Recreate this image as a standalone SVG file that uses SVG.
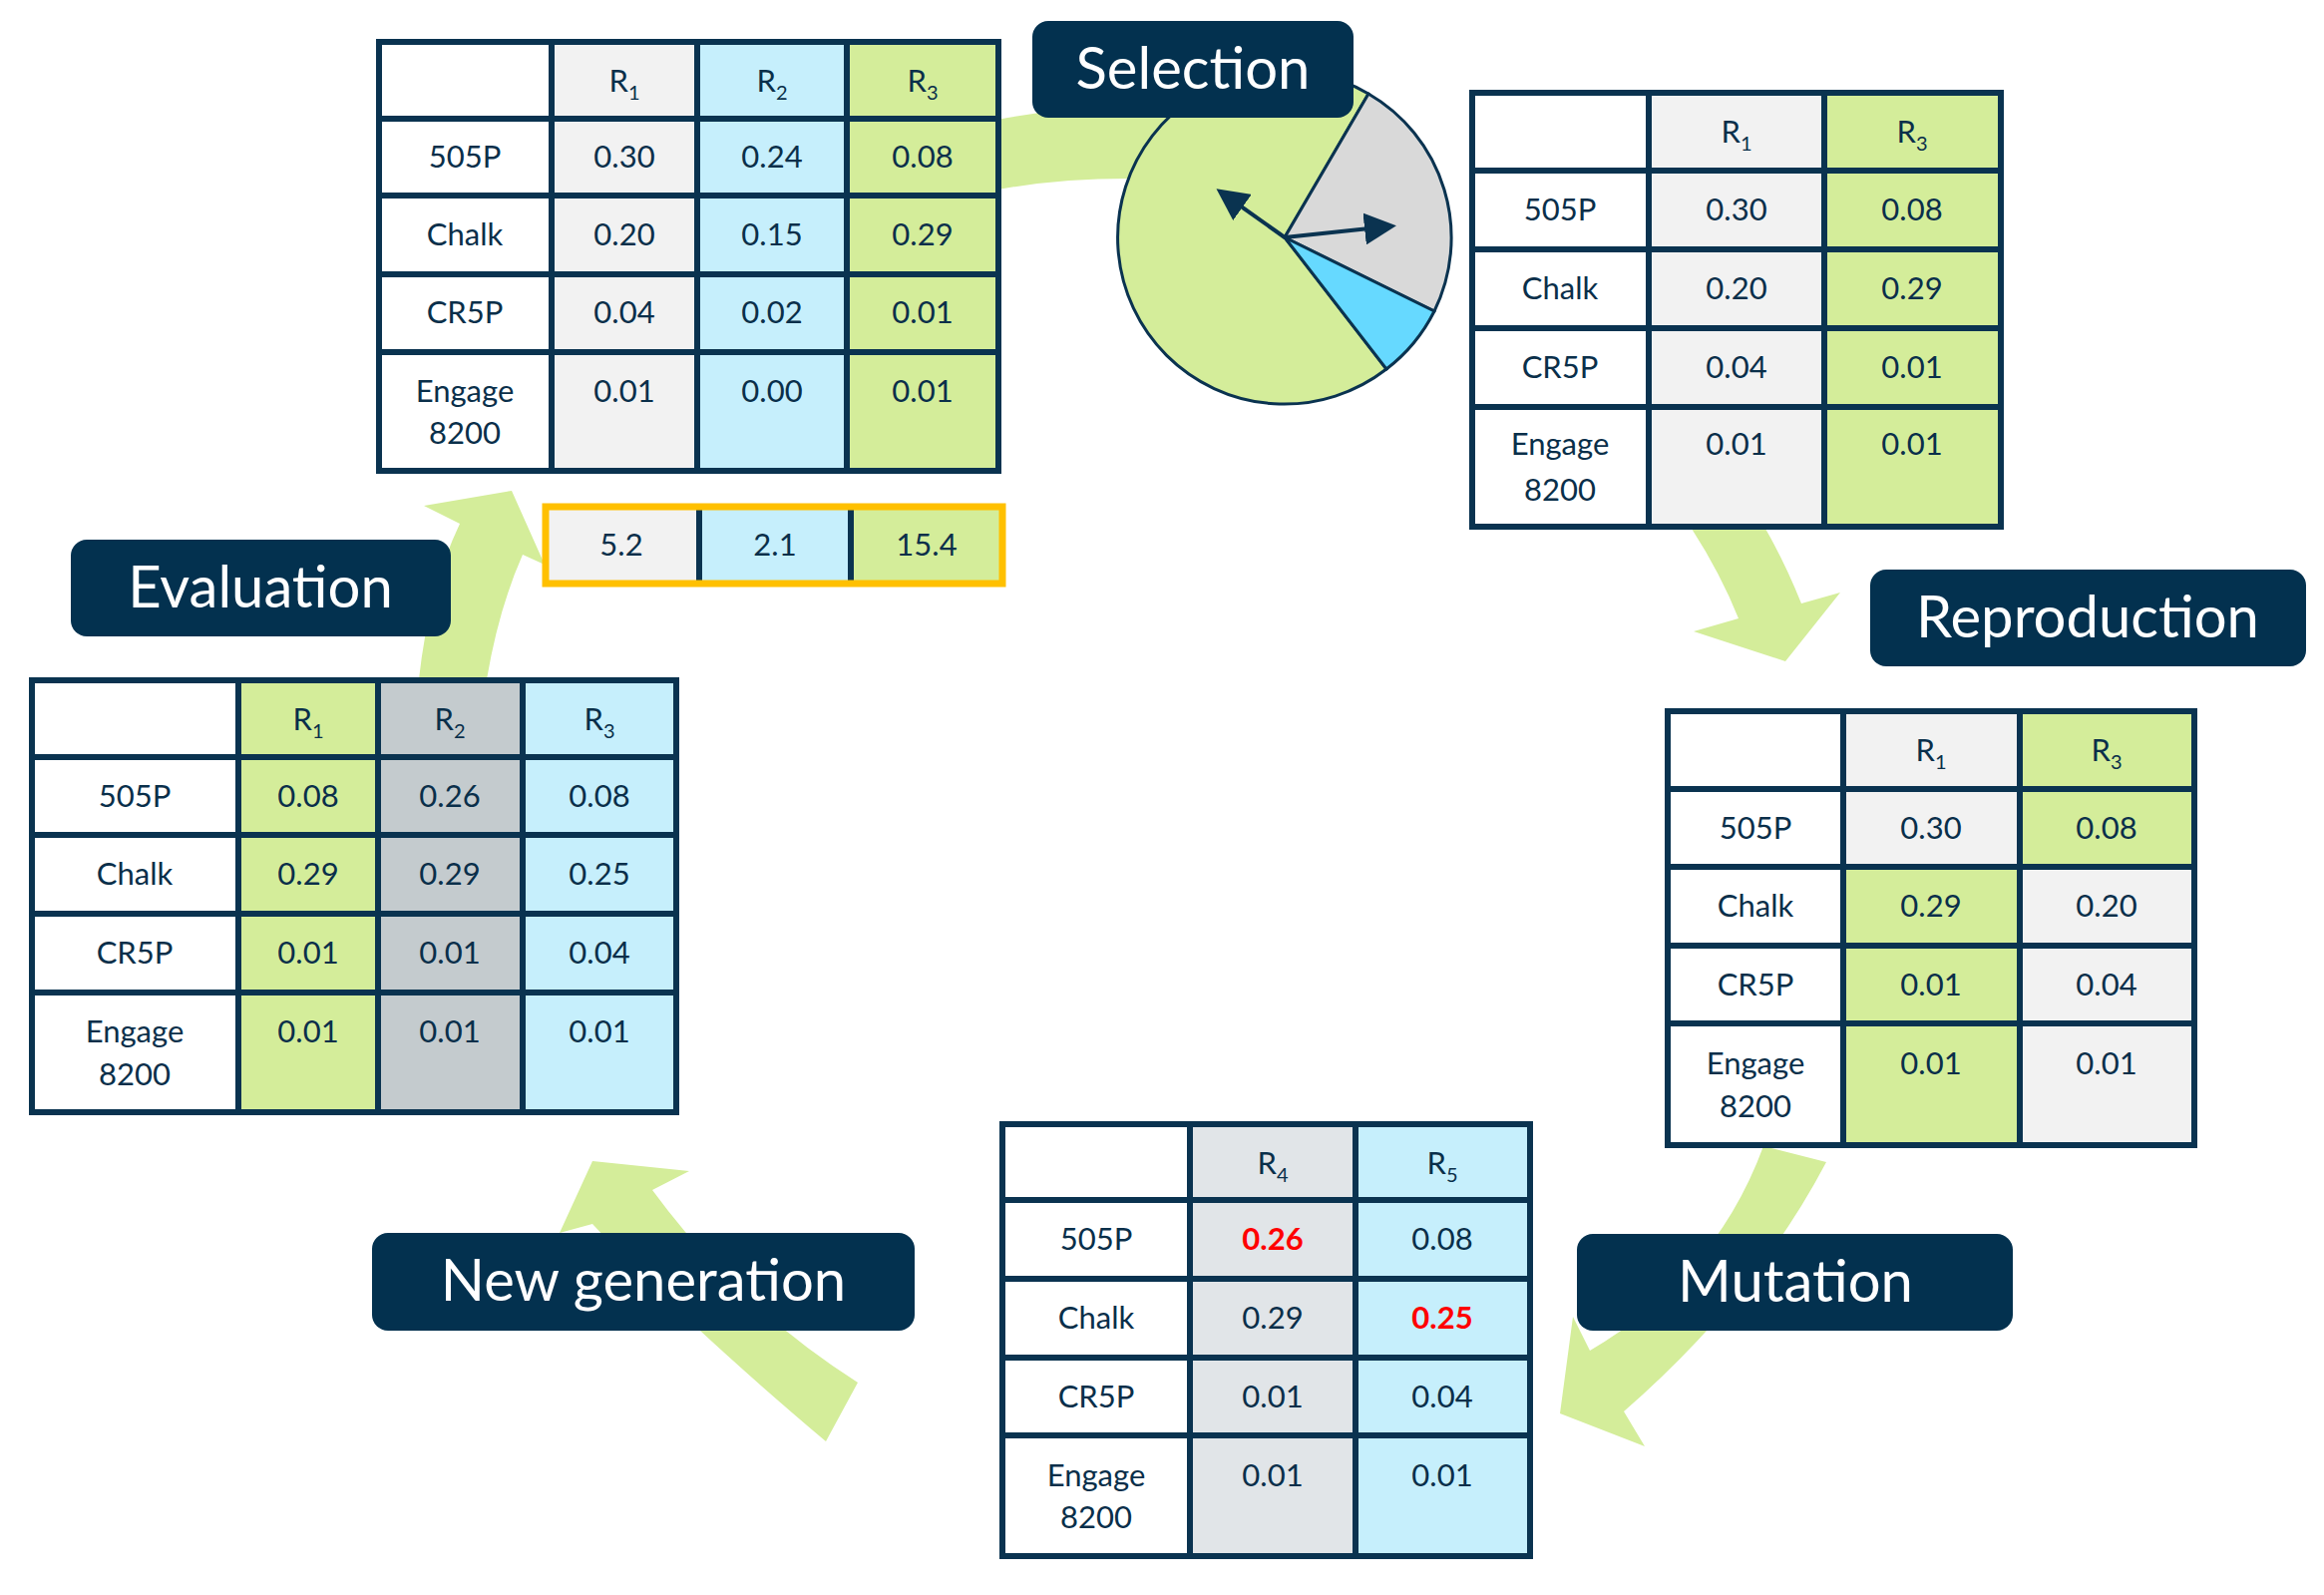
<svg xmlns="http://www.w3.org/2000/svg" width="2330" height="1599" viewBox="0 0 2330 1599">
<style>
.t{font-family:Lato,"Open Sans","Liberation Sans",sans-serif;font-size:31px;fill:#0a2f4a;text-anchor:middle}
.s{font-size:20px}
.lab{fill:#03314f}
.lt{font-family:Lato,"Open Sans","Liberation Sans",sans-serif;font-size:58px;fill:#fff;text-anchor:middle}
.g{stroke:#0a3350;stroke-width:6;fill:none}
.gr{fill:#f2f2f2}.bl{fill:#c6effc}.gn{fill:#d4ed9a}.dg{fill:#c4cbce}.lg{fill:#e1e5e8}
.red{fill:#ff0000;font-weight:bold}
.arr{fill:#d4ed9a}
</style>
<defs>
<marker id="ah" markerWidth="8" markerHeight="8" refX="6" refY="4" orient="auto" markerUnits="strokeWidth"><path d="M0,0 L8,4 L0,8 Z" fill="#0a3350"/></marker>
</defs>
<rect width="2330" height="1599" fill="#fff"/>
<g id="connectors">
<path class="arr" d="M1000,120 Q1080,104 1170,108 L1170,180 Q1080,176 1000,190 Z"/>
<path class="arr" d="M1696,530 Q1725,575 1743,620 L1698,633 L1790,663 L1845,594 L1806,605 Q1790,565 1770,530 Z"/>
<path class="arr" d="M1768,1149 Q1720,1280 1594,1354 L1577,1320 L1564,1417 L1649,1450 L1628,1415 Q1760,1300 1831,1165 Z"/>
<path class="arr" d="M828,1445 Q680,1320 594,1227 L561,1236 L594,1164 L691,1174 L654,1193 Q740,1310 860,1386 Z"/>
<path class="arr" d="M420,681 Q430,590 461,525 L425,507 L513,492 L546,566 L524,556 Q500,610 488,681 Z"/>
</g>
<g id="pie">
<path d="M1288,238 L1390,370 A167,167 0 1 1 1372,94 Z" fill="#d4ed9a" stroke="#0a3350" stroke-width="3"/>
<path d="M1288,238 L1372,94 A167,167 0 0 1 1438,312 Z" fill="#d9d9d9" stroke="#0a3350" stroke-width="3"/>
<path d="M1288,238 L1438,312 A167,167 0 0 1 1390,370 Z" fill="#66d9ff" stroke="#0a3350" stroke-width="3"/>
<line x1="1288" y1="238" x2="1226" y2="194" stroke="#0a3350" stroke-width="4" marker-end="url(#ah)"/>
<line x1="1288" y1="238" x2="1392" y2="227" stroke="#0a3350" stroke-width="4" marker-end="url(#ah)"/>
</g>
<g id="table1">
<rect x="553" y="42" width="146" height="430" class="gr"/>
<rect x="699" y="42" width="150" height="430" class="bl"/>
<rect x="849" y="42" width="152" height="430" class="gn"/>
<path class="g" d="M380,42H1001V472H380Z M553,42V472 M699,42V472 M849,42V472 M380,119H1001 M380,196H1001 M380,275H1001 M380,353H1001"/>
<text class="t" x="626" y="92">R<tspan class="s" dy="8">1</tspan></text>
<text class="t" x="774" y="92">R<tspan class="s" dy="8">2</tspan></text>
<text class="t" x="925" y="92">R<tspan class="s" dy="8">3</tspan></text>
<text class="t" x="466" y="168">505P</text><text class="t" x="626" y="168">0.30</text><text class="t" x="774" y="168">0.24</text><text class="t" x="925" y="168">0.08</text>
<text class="t" x="466" y="246">Chalk</text><text class="t" x="626" y="246">0.20</text><text class="t" x="774" y="246">0.15</text><text class="t" x="925" y="246">0.29</text>
<text class="t" x="466" y="324">CR5P</text><text class="t" x="626" y="324">0.04</text><text class="t" x="774" y="324">0.02</text><text class="t" x="925" y="324">0.01</text>
<text class="t" x="466" y="403">Engage</text><text class="t" x="466" y="445">8200</text><text class="t" x="626" y="403">0.01</text><text class="t" x="774" y="403">0.00</text><text class="t" x="925" y="403">0.01</text>
</g>
<g id="scores">
<rect x="546" y="507" width="155" height="77" class="gr"/>
<rect x="701" y="507" width="152" height="77" class="bl"/>
<rect x="853" y="507" width="151" height="77" class="gn"/>
<path class="g" d="M701,507V584 M853,507V584"/>
<rect x="547" y="508" width="458" height="77" fill="none" stroke="#ffc000" stroke-width="7"/>
<text class="t" x="623" y="557">5.2</text><text class="t" x="777" y="557">2.1</text><text class="t" x="929" y="557">15.4</text>
</g>
<g id="table2">
<rect x="1653" y="93" width="176" height="435" class="gr"/>
<rect x="1829" y="93" width="177" height="435" class="gn"/>
<path class="g" d="M1476,93H2006V528H1476Z M1653,93V528 M1829,93V528 M1476,171H2006 M1476,250H2006 M1476,329H2006 M1476,408H2006"/>
<text class="t" x="1741" y="143">R<tspan class="s" dy="8">1</tspan></text>
<text class="t" x="1917" y="143">R<tspan class="s" dy="8">3</tspan></text>
<text class="t" x="1564" y="221">505P</text><text class="t" x="1741" y="221">0.30</text><text class="t" x="1917" y="221">0.08</text>
<text class="t" x="1564" y="300">Chalk</text><text class="t" x="1741" y="300">0.20</text><text class="t" x="1917" y="300">0.29</text>
<text class="t" x="1564" y="379">CR5P</text><text class="t" x="1741" y="379">0.04</text><text class="t" x="1917" y="379">0.01</text>
<text class="t" x="1564" y="456">Engage</text><text class="t" x="1564" y="502">8200</text><text class="t" x="1741" y="456">0.01</text><text class="t" x="1917" y="456">0.01</text>
</g>
<g id="table3">
<rect x="1848" y="713" width="177" height="78" class="gr"/>
<rect x="2025" y="713" width="175" height="78" class="gn"/>
<rect x="1848" y="791" width="177" height="78" class="gr"/>
<rect x="2025" y="791" width="175" height="78" class="gn"/>
<rect x="1848" y="869" width="177" height="279" class="gn"/>
<rect x="2025" y="869" width="175" height="279" class="gr"/>
<path class="g" d="M1672,713H2200V1148H1672Z M1848,713V1148 M2025,713V1148 M1672,791H2200 M1672,869H2200 M1672,948H2200 M1672,1026H2200"/>
<text class="t" x="1936" y="763">R<tspan class="s" dy="8">1</tspan></text>
<text class="t" x="2112" y="763">R<tspan class="s" dy="8">3</tspan></text>
<text class="t" x="1760" y="841">505P</text><text class="t" x="1936" y="841">0.30</text><text class="t" x="2112" y="841">0.08</text>
<text class="t" x="1760" y="919">Chalk</text><text class="t" x="1936" y="919">0.29</text><text class="t" x="2112" y="919">0.20</text>
<text class="t" x="1760" y="998">CR5P</text><text class="t" x="1936" y="998">0.01</text><text class="t" x="2112" y="998">0.04</text>
<text class="t" x="1760" y="1077">Engage</text><text class="t" x="1760" y="1120">8200</text><text class="t" x="1936" y="1077">0.01</text><text class="t" x="2112" y="1077">0.01</text>
</g>
<g id="table4">
<rect x="239" y="682" width="140" height="433" class="gn"/>
<rect x="379" y="682" width="145" height="433" class="dg"/>
<rect x="524" y="682" width="154" height="433" class="bl"/>
<path class="g" d="M32,682H678V1115H32Z M239,682V1115 M379,682V1115 M524,682V1115 M32,759H678 M32,837H678 M32,916H678 M32,995H678"/>
<text class="t" x="309" y="732">R<tspan class="s" dy="8">1</tspan></text>
<text class="t" x="451" y="732">R<tspan class="s" dy="8">2</tspan></text>
<text class="t" x="601" y="732">R<tspan class="s" dy="8">3</tspan></text>
<text class="t" x="135" y="809">505P</text><text class="t" x="309" y="809">0.08</text><text class="t" x="451" y="809">0.26</text><text class="t" x="601" y="809">0.08</text>
<text class="t" x="135" y="887">Chalk</text><text class="t" x="309" y="887">0.29</text><text class="t" x="451" y="887">0.29</text><text class="t" x="601" y="887">0.25</text>
<text class="t" x="135" y="966">CR5P</text><text class="t" x="309" y="966">0.01</text><text class="t" x="451" y="966">0.01</text><text class="t" x="601" y="966">0.04</text>
<text class="t" x="135" y="1045">Engage</text><text class="t" x="135" y="1088">8200</text><text class="t" x="309" y="1045">0.01</text><text class="t" x="451" y="1045">0.01</text><text class="t" x="601" y="1045">0.01</text>
</g>
<g id="table5">
<rect x="1193" y="1127" width="166" height="433" class="lg"/>
<rect x="1359" y="1127" width="175" height="433" class="bl"/>
<path class="g" d="M1005,1127H1534V1560H1005Z M1193,1127V1560 M1359,1127V1560 M1005,1203H1534 M1005,1282H1534 M1005,1361H1534 M1005,1439H1534"/>
<text class="t" x="1276" y="1177">R<tspan class="s" dy="8">4</tspan></text>
<text class="t" x="1446" y="1177">R<tspan class="s" dy="8">5</tspan></text>
<text class="t" x="1099" y="1253">505P</text><text class="t red" x="1276" y="1253">0.26</text><text class="t" x="1446" y="1253">0.08</text>
<text class="t" x="1099" y="1332">Chalk</text><text class="t" x="1276" y="1332">0.29</text><text class="t red" x="1446" y="1332">0.25</text>
<text class="t" x="1099" y="1411">CR5P</text><text class="t" x="1276" y="1411">0.01</text><text class="t" x="1446" y="1411">0.04</text>
<text class="t" x="1099" y="1490">Engage</text><text class="t" x="1099" y="1532">8200</text><text class="t" x="1276" y="1490">0.01</text><text class="t" x="1446" y="1490">0.01</text>
</g>
<g id="selection"><rect class="lab" x="1035" y="21" width="322" height="97" rx="16"/><text class="lt" x="1196" y="89">Selection</text></g>
<g id="reproduction"><rect class="lab" x="1875" y="571" width="437" height="97" rx="16"/><text class="lt" x="2093" y="639">Reproduction</text></g>
<g id="evaluation"><rect class="lab" x="71" y="541" width="381" height="97" rx="16"/><text class="lt" x="261" y="609">Evaluation</text></g>
<g id="newgeneration"><rect class="lab" x="373" y="1236" width="544" height="98" rx="16"/><text class="lt" x="645" y="1304">New generation</text></g>
<g id="mutation"><rect class="lab" x="1581" y="1237" width="437" height="97" rx="16"/><text class="lt" x="1800" y="1305">Mutation</text></g>
</svg>
